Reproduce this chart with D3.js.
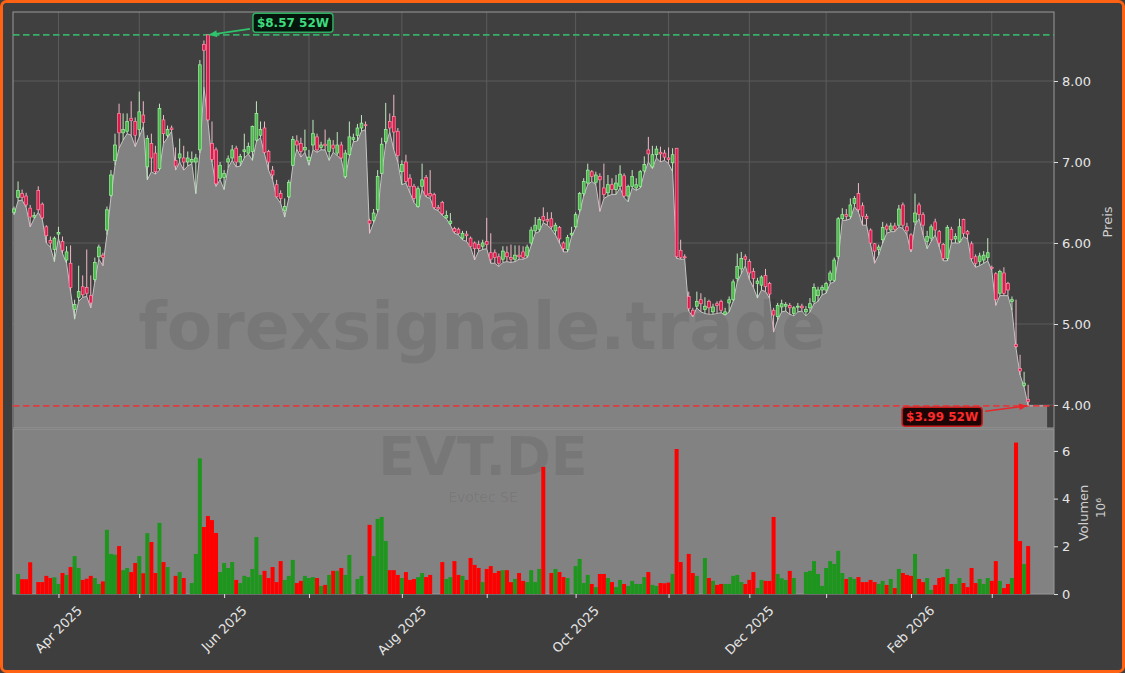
<!DOCTYPE html>
<html><head><meta charset="utf-8">
<script src="https://cdn.jsdelivr.net/npm/d3@7"></script>
<style>
html,body{margin:0;padding:0;background:#3e3e3e;}
svg{display:block;font-family:"DejaVu Sans",sans-serif;}
</style></head><body>
<svg id="chart" width="1125" height="673"></svg>
<script>
// ---------------- DATA ----------------
const startDate = "2025-03-17";
const holidays = ["2025-04-18","2025-04-21","2025-05-01","2025-12-24","2025-12-25","2025-12-26","2025-12-31","2026-01-01"];
const open = [
6.38,6.56,6.61,6.58,6.43,6.32,6.65,6.48,6.20,6.03,
5.92,6.11,6.02,5.79,5.75,5.18,5.33,5.46,5.45,5.35,
5.55,5.83,5.85,6.16,6.59,7.02,7.60,7.36,7.38,7.54,
7.50,7.40,7.58,6.94,7.23,7.11,6.92,7.52,7.33,7.42,
7.02,7.05,7.05,7.00,7.00,7.00,7.15,8.45,8.57,7.23,
7.15,6.80,6.81,7.00,7.05,7.17,7.00,7.13,7.11,7.13,
7.27,7.33,7.42,7.13,6.90,6.72,6.61,6.40,6.57,6.96,
7.26,7.23,7.15,7.02,7.21,7.31,7.18,7.22,7.13,7.21,
7.11,7.21,6.82,7.09,7.28,7.33,7.42,7.46,6.28,6.28,
6.41,6.86,7.25,7.50,7.56,7.38,6.88,7.00,6.80,6.70,
6.45,6.70,6.81,6.61,6.60,6.44,6.50,6.31,6.24,6.18,
6.17,6.06,6.11,6.06,6.00,5.98,5.96,6.02,5.88,5.88,
5.83,5.80,5.88,5.82,5.80,5.85,5.89,5.84,6.00,6.15,
6.17,6.33,6.29,6.30,6.15,6.19,6.00,5.92,6.10,6.20,
6.41,6.61,6.74,6.88,6.75,6.82,6.68,6.62,6.72,6.66,
6.70,6.83,6.58,6.70,6.68,6.70,6.89,7.15,6.94,7.09,
7.12,7.11,7.05,6.99,7.17,5.91,5.83,5.34,5.17,5.22,
5.30,5.18,5.28,5.15,5.25,5.28,5.12,5.26,5.30,5.56,
5.68,5.83,5.77,5.65,5.50,5.48,5.60,5.50,5.17,5.09,
5.21,5.22,5.23,5.13,5.21,5.22,5.15,5.20,5.28,5.35,
5.42,5.42,5.54,5.54,5.83,6.30,6.35,6.33,6.49,6.61,
6.46,6.33,6.16,5.99,5.92,6.04,6.21,6.16,6.21,6.22,
6.47,6.20,6.10,6.26,6.47,6.35,6.02,6.06,6.26,6.14,
5.98,5.81,6.17,6.05,6.02,6.29,6.14,5.99,5.83,5.77,
5.79,5.82,5.70,5.62,5.38,5.63,5.50,5.28,4.75,4.45,
4.24,4.07];
const high = [
6.45,6.76,6.66,6.62,6.47,6.38,6.70,6.50,6.22,6.08,
6.08,6.20,6.08,5.96,5.97,5.30,5.72,5.60,5.92,5.60,
5.82,5.98,5.88,6.45,6.90,7.35,7.72,7.60,7.60,7.75,
7.55,7.87,7.75,7.33,7.35,7.20,7.72,7.58,7.45,7.45,
7.18,7.29,7.20,7.13,7.13,7.10,8.26,8.50,8.57,7.50,
7.18,7.00,6.90,7.08,7.21,7.20,7.10,7.35,7.24,7.45,
7.75,7.50,7.50,7.15,6.95,6.78,6.65,6.55,6.78,7.32,
7.33,7.30,7.40,7.15,7.52,7.35,7.25,7.40,7.30,7.27,
7.37,7.25,7.15,7.50,7.35,7.47,7.58,7.50,6.30,6.42,
6.90,7.30,7.73,7.60,7.83,7.42,7.02,7.09,6.85,6.73,
6.70,6.98,6.84,6.90,6.62,6.47,6.52,6.40,6.37,6.20,
6.19,6.15,6.15,6.08,6.02,6.03,6.04,6.31,6.12,5.92,
5.87,5.96,5.96,5.98,5.97,5.97,5.96,5.98,6.20,6.32,
6.32,6.44,6.38,6.38,6.25,6.21,6.02,6.10,6.20,6.38,
6.63,6.80,6.98,6.90,6.88,6.86,6.98,6.84,6.80,6.84,
6.96,6.86,6.72,6.90,6.80,6.90,7.07,7.31,7.20,7.20,
7.19,7.15,7.18,7.17,7.17,6.04,5.86,5.40,5.20,5.40,
5.38,5.33,5.30,5.25,5.28,5.30,5.20,5.34,5.55,5.87,
5.89,5.86,5.80,5.69,5.57,5.60,5.68,5.52,5.20,5.26,
5.30,5.27,5.26,5.22,5.26,5.25,5.22,5.32,5.50,5.46,
5.48,5.52,5.66,5.82,6.32,6.43,6.42,6.55,6.58,6.74,
6.50,6.36,6.18,6.00,5.98,6.26,6.24,6.25,6.25,6.47,
6.50,6.25,6.12,6.61,6.50,6.38,6.15,6.23,6.30,6.16,
6.00,6.22,6.20,6.12,6.30,6.30,6.16,6.02,5.86,5.88,
5.90,6.06,5.72,5.64,5.67,5.70,5.52,5.34,5.30,4.62,
4.41,4.25];
const low = [
6.35,6.52,6.53,6.44,6.20,6.30,6.38,6.29,6.00,5.95,
5.77,6.06,5.87,5.75,5.40,5.06,5.28,5.33,5.34,5.20,
5.52,5.80,5.72,6.10,6.57,6.96,7.17,7.27,7.35,7.33,
7.19,7.31,7.44,6.78,6.88,6.85,6.90,7.23,7.30,7.38,
6.90,7.00,6.90,6.95,6.98,6.61,7.11,7.93,7.50,7.00,
6.70,6.78,6.66,6.93,7.02,6.94,6.95,7.05,7.10,7.02,
7.25,7.30,7.10,6.90,6.78,6.56,6.49,6.32,6.55,6.95,
7.16,7.06,7.12,6.96,7.15,7.12,7.15,7.15,7.02,7.12,
7.08,7.03,6.80,7.07,7.25,7.26,7.38,7.40,6.12,6.25,
6.38,6.85,7.22,7.37,7.15,7.00,6.72,6.74,6.62,6.50,
6.44,6.66,6.57,6.55,6.42,6.40,6.34,6.30,6.22,6.12,
6.10,6.04,6.02,5.95,5.79,5.90,5.92,5.93,5.75,5.75,
5.71,5.76,5.77,5.76,5.77,5.80,5.80,5.82,5.97,6.12,
6.14,6.25,6.22,6.17,6.10,6.00,5.89,5.89,6.08,6.18,
6.38,6.58,6.72,6.76,6.72,6.39,6.55,6.58,6.60,6.60,
6.68,6.56,6.51,6.68,6.65,6.68,6.86,7.00,6.92,7.05,
7.00,7.02,6.98,6.88,5.81,5.80,5.80,5.16,5.09,5.20,
5.15,5.13,5.12,5.12,5.13,5.14,5.11,5.15,5.28,5.52,
5.62,5.72,5.55,5.45,5.32,5.42,5.40,5.32,4.90,5.05,
5.15,5.16,5.12,5.10,5.15,5.16,5.10,5.15,5.25,5.28,
5.36,5.38,5.50,5.52,5.80,6.28,6.28,6.30,6.45,6.38,
6.22,6.22,5.98,5.75,5.85,6.00,6.12,6.14,6.14,6.20,
6.18,6.10,5.89,6.22,6.30,6.10,5.93,6.02,6.10,5.95,
5.78,5.78,6.00,6.00,6.00,6.08,6.05,5.78,5.70,5.72,
5.75,5.78,5.66,5.23,5.35,5.35,5.35,5.17,4.70,4.37,
4.22,3.99];
const close = [
6.42,6.65,6.56,6.47,6.32,6.34,6.41,6.31,6.09,6.00,
6.06,6.13,5.91,5.89,5.45,5.24,5.40,5.36,5.38,5.26,
5.76,5.95,5.82,6.41,6.84,7.21,7.36,7.40,7.50,7.51,
7.33,7.62,7.49,7.29,7.05,6.88,7.66,7.35,7.40,7.40,
6.95,7.10,7.00,7.05,7.03,7.05,8.20,8.38,7.52,7.03,
6.73,6.96,6.86,7.04,7.15,7.00,7.07,7.15,7.19,7.44,
7.60,7.40,7.12,7.00,6.84,6.57,6.55,6.45,6.75,7.28,
7.21,7.13,7.18,7.06,7.35,7.15,7.21,7.20,7.27,7.17,
7.21,7.05,7.11,7.31,7.30,7.42,7.48,7.45,6.24,6.37,
6.82,7.22,7.40,7.42,7.37,7.08,6.97,6.76,6.70,6.55,
6.67,6.78,6.59,6.58,6.44,6.42,6.36,6.34,6.27,6.14,
6.12,6.12,6.09,5.96,5.93,5.93,6.00,5.98,5.80,5.82,
5.75,5.90,5.83,5.80,5.85,5.83,5.82,5.95,6.16,6.22,
6.29,6.28,6.27,6.20,6.22,6.05,5.93,6.07,6.12,6.35,
6.61,6.76,6.90,6.82,6.84,6.78,6.60,6.72,6.66,6.74,
6.85,6.58,6.70,6.82,6.72,6.88,6.97,7.10,7.09,7.16,
7.10,7.06,7.03,7.09,5.83,5.82,5.82,5.19,5.11,5.28,
5.25,5.22,5.20,5.21,5.23,5.17,5.15,5.30,5.52,5.71,
5.81,5.80,5.63,5.56,5.53,5.58,5.46,5.37,5.11,5.23,
5.25,5.24,5.20,5.20,5.22,5.20,5.18,5.25,5.45,5.42,
5.45,5.50,5.63,5.79,6.30,6.35,6.33,6.47,6.55,6.41,
6.33,6.30,6.00,5.90,5.95,6.19,6.17,6.21,6.17,6.42,
6.22,6.15,5.92,6.37,6.35,6.22,6.08,6.20,6.16,6.00,
5.81,6.19,6.04,6.08,6.20,6.12,6.11,5.81,5.75,5.84,
5.85,5.88,5.69,5.30,5.65,5.38,5.42,5.30,4.72,4.42,
4.27,4.04];
// volume in millions
const volume = [
0,0.84,0.62,0.62,1.33,0,0.50,0.50,0.76,0.67,
0.70,0.42,0.88,0.80,1.13,1.59,1.09,0.59,0.64,0.76,
0.67,0.42,0.53,2.69,1.68,1.65,2.01,1.00,1.09,0.92,
1.30,1.59,0.87,2.55,2.18,0.88,2.98,1.34,1.13,0,
0.76,0.92,0.67,0,0.46,1.68,5.69,2.81,3.27,3.10,
2.56,0.92,1.30,1.09,1.34,0.59,0.46,0.76,0.71,1.05,
2.39,0.80,0.97,0.67,1.13,0.50,1.38,0.59,0.76,1.43,
0.46,0.55,0.76,0.67,0.71,0.67,0.34,0.38,0.80,0.97,
0.97,1.09,0.80,1.64,0,0.63,0.76,0,2.90,1.59,
3.15,3.23,2.22,1.00,1.00,0.80,0.67,0.92,0.59,0.63,
0.71,0.88,0.71,0.80,0,0,1.34,0.63,0.71,1.38,
0.80,0.76,0.59,1.51,1.22,1.09,0.50,1.05,1.17,0.88,
0.97,1.00,1.00,0.50,0.63,0.88,0.55,0.50,1.00,0.50,
1.05,5.33,0,0.88,1.05,0.92,0.71,0.67,0,1.17,
1.47,0.46,0.80,0.42,0.29,0.84,0.84,0.67,0.50,0.29,
0.59,0.42,0.34,0.55,0.42,0.42,0.71,0.92,0.38,0.34,
0.46,0.45,0.48,0.84,6.08,1.34,0,1.68,0.88,0.76,
0,1.51,0.67,0.55,0.38,0.42,0.42,0.42,0.76,0.80,
0.50,0.42,0.59,0.92,0.25,0.59,0.55,0.55,3.23,0.84,
0.66,0.59,0.97,0.67,0,0,0.92,0.97,1.38,0.84,
0.34,1.09,1.38,1.26,1.81,0.88,0.63,0.71,0.63,0.71,
0.50,0.50,0.59,0.50,0.42,0.55,0.38,0.63,0.25,1.05,
0.88,0.80,0.76,1.68,0.63,0.50,0.67,0.17,0.38,0.67,
0.71,1.05,0.42,0.42,0.67,0.46,0.29,1.09,0.46,0.63,
0.42,0.67,0.55,1.38,0.55,0.25,0.42,0.67,6.35,2.22,
1.26,2.01];
const priceTicks = [4, 5, 6, 7, 8];
const volumeTicks = [0, 2, 4, 6];
const xTickLabels = ["Apr 2025","Jun 2025","Aug 2025","Oct 2025","Dec 2025","Feb 2026"];
const ticker = "EVT.DE";
const companyName = "Evotec SE";
const watermark = "forexsignale.trade";

// ---------------- LAYOUT / STYLE ----------------
const W = 1125, H = 673;
const L = 13, R = 1054, pTop = 12, pBot = 428, vTop = 429, vBot = 594;
const areaEndIdx = 255.7;

function tradingDays(start, n, hol) {
  const hs = new Set(hol), out = [];
  const d = new Date(start + "T00:00:00Z");
  while (out.length < n) {
    const wd = d.getUTCDay(), s = d.toISOString().slice(0, 10);
    if (wd !== 0 && wd !== 6 && !hs.has(s)) out.push(new Date(d));
    d.setUTCDate(d.getUTCDate() + 1);
  }
  return out;
}
const dates = tradingDays(startDate, open.length, holidays);
const data = open.map((o, i) => ({i, o, h: high[i], l: low[i], c: close[i], v: volume[i], date: dates[i]}));
const monthIdx = [];
for (let i = 1; i < dates.length; i++) if (dates[i].getUTCMonth() !== dates[i-1].getUTCMonth()) monthIdx.push(i);
const fmt = d3.utcFormat("%b %Y");

const x = d3.scaleLinear().domain([-0.25, 257.4]).range([L, R]);
const y = d3.scaleLinear().domain([3.716, 8.852]).range([pBot, pTop]);
const yv = d3.scaleLinear().domain([0, 6.92]).range([vBot, vTop]);

const svg = d3.select("#chart");
svg.append("rect").attr("x", 1.5).attr("y", 1.5).attr("width", W - 3).attr("height", H - 3)
  .attr("rx", 5).attr("fill", "#3e3e3e").attr("stroke", "#ff6212").attr("stroke-width", 3);

// price panel background
svg.append("rect").attr("x", L).attr("y", pTop).attr("width", R - L).attr("height", pBot - pTop).attr("fill", "#404040");

// grid
const grid = svg.append("g");
grid.selectAll("line.h").data(priceTicks).join("line")
  .attr("x1", L).attr("x2", R).attr("y1", d => y(d)).attr("y2", d => y(d))
  .attr("stroke", "#5f5f5f").attr("stroke-width", 0.9);
grid.selectAll("line.v").data(monthIdx).join("line")
  .attr("x1", d => x(d)).attr("x2", d => x(d)).attr("y1", pTop).attr("y2", pBot)
  .attr("stroke", "#5f5f5f").attr("stroke-width", 0.9);

// area (lows)
const areaPts = data.map(d => [d.i, d.l]).concat([[areaEndIdx, low[low.length - 1]]]);
svg.append("path").datum(areaPts)
  .attr("d", d3.area().x(d => x(d[0])).y0(pBot).y1(d => y(d[1])))
  .attr("fill", "#828282");
svg.append("path").datum(areaPts)
  .attr("d", d3.line().x(d => x(d[0])).y(d => y(d[1])))
  .attr("fill", "none").attr("stroke", "#c4c4c4").attr("stroke-width", 1);

// volume panel background
svg.append("rect").attr("x", L).attr("y", vTop).attr("width", R - L).attr("height", vBot - vTop).attr("fill", "#828282");

// watermarks
svg.append("text").attr("x", 482).attr("y", 349).attr("text-anchor", "middle")
  .attr("font-size", 66).attr("font-weight", "bold").attr("fill", "#000").attr("fill-opacity", 0.08).text(watermark);
svg.append("text").attr("x", 483).attr("y", 475).attr("text-anchor", "middle")
  .attr("font-size", 54).attr("font-weight", "bold").attr("fill", "#000").attr("fill-opacity", 0.08).text(ticker);
svg.append("text").attr("x", 483).attr("y", 502).attr("text-anchor", "middle")
  .attr("font-size", 14).attr("fill", "#000").attr("fill-opacity", 0.08).text(companyName);

// spines
svg.append("rect").attr("x", L).attr("y", pTop).attr("width", R - L).attr("height", pBot - pTop)
  .attr("fill", "none").attr("stroke", "#999").attr("stroke-width", 1);
svg.append("rect").attr("x", L).attr("y", vTop).attr("width", R - L).attr("height", vBot - vTop)
  .attr("fill", "none").attr("stroke", "#999").attr("stroke-width", 1);

// 52w lines
let hiIdx = d3.maxIndex(high), loIdx = d3.minIndex(low);
const hiVal = high[hiIdx], loVal = low[loIdx];
svg.append("line").attr("x1", L).attr("x2", R).attr("y1", y(hiVal)).attr("y2", y(hiVal))
  .attr("stroke", "#37b56a").attr("stroke-width", 1.7).attr("stroke-dasharray", "6.5,3.5").attr("opacity", 0.95);
svg.append("line").attr("x1", L).attr("x2", R).attr("y1", y(loVal)).attr("y2", y(loVal))
  .attr("stroke", "#e3393c").attr("stroke-width", 1.7).attr("stroke-dasharray", "6.5,3.5").attr("opacity", 0.95);

// candles
const bw = 2.8;
const cg = svg.append("g");
cg.selectAll("line").data(data).join("line")
  .attr("x1", d => x(d.i)).attr("x2", d => x(d.i))
  .attr("y1", d => y(d.h)).attr("y2", d => y(d.l))
  .attr("stroke", d => d.c >= d.o ? "#bfe8bf" : "#f0b9c7").attr("stroke-width", 1);
cg.selectAll("rect").data(data).join("rect")
  .attr("x", d => x(d.i) - bw / 2).attr("width", bw)
  .attr("y", d => y(Math.max(d.o, d.c)))
  .attr("height", d => Math.max(1, Math.abs(y(d.o) - y(d.c))))
  .attr("fill", d => d.c >= d.o ? "#4cb84c" : "#e0184c")
  .attr("stroke", d => d.c >= d.o ? "#a2f2a2" : "#ff8fa8").attr("stroke-width", 0.7);

// volume bars
svg.append("g").selectAll("rect").data(data.filter(d => d.v > 0)).join("rect")
  .attr("x", d => x(d.i) - 2).attr("width", 4)
  .attr("y", d => yv(d.v)).attr("height", d => vBot - yv(d.v))
  .attr("fill", d => d.c >= d.o ? "#1e961e" : "#ff0000");

// axes
const axCol = "#e6e6e6";
const pAx = svg.append("g").attr("transform", `translate(${R},0)`)
  .call(d3.axisRight(y).tickValues(priceTicks).tickFormat(d3.format(".2f")).tickSize(4).tickPadding(4));
const vAx = svg.append("g").attr("transform", `translate(${R},0)`)
  .call(d3.axisRight(yv).tickValues(volumeTicks).tickFormat(d3.format("d")).tickSize(4).tickPadding(4));
const xAx = svg.append("g").attr("transform", `translate(0,${vBot})`)
  .call(d3.axisBottom(x).tickValues(monthIdx).tickFormat("").tickSize(4));
[pAx, vAx, xAx].forEach(g => {
  g.select(".domain").remove();
  g.selectAll(".tick line").attr("stroke", "#dddddd");
  g.selectAll(".tick text").attr("fill", axCol).attr("font-size", 13).attr("font-family", "DejaVu Sans");
});
const xl = svg.append("g");
monthIdx.forEach(i => {
  const lbl = fmt(dates[i]);
  if (!xTickLabels.includes(lbl)) return;
  const t = xl.append("text").text(lbl).attr("font-size", 13).attr("fill", axCol)
    .attr("text-anchor", "middle").attr("dominant-baseline", "central");
  const len = t.node().getComputedTextLength();
  const cy = 604 + (len + 12) * 0.3536;
  t.attr("transform", `translate(${x(i)},${cy}) rotate(-45)`);
});

svg.append("text").attr("transform", "translate(1107,222) rotate(-90)").attr("text-anchor", "middle")
  .attr("dominant-baseline", "central").attr("font-size", 13).attr("fill", "#cfcfcf").text("Preis");
svg.append("text").attr("transform", "translate(1083,513) rotate(-90)").attr("text-anchor", "middle")
  .attr("dominant-baseline", "central").attr("font-size", 13).attr("fill", "#cfcfcf").text("Volumen");
svg.append("text").attr("transform", "translate(1101,508) rotate(-90)").attr("text-anchor", "middle")
  .attr("dominant-baseline", "central").attr("font-size", 12).attr("fill", "#cfcfcf").text("10⁶");

// annotations
function arrow(x1, y1, x2, y2, col) {
  svg.append("line").attr("x1", x1).attr("y1", y1).attr("x2", x2).attr("y2", y2)
    .attr("stroke", col).attr("stroke-width", 1.6);
  const a = Math.atan2(y2 - y1, x2 - x1), s = 8, w = 3.5;
  const bx = x2 - s * Math.cos(a), by = y2 - s * Math.sin(a);
  const p = [[x2, y2], [bx + w * Math.sin(a), by - w * Math.cos(a)], [bx - w * Math.sin(a), by + w * Math.cos(a)]];
  svg.append("path").attr("d", "M" + p.map(q => q.join(",")).join("L") + "Z").attr("fill", col);
}
function labelBox(bx, by, txt, col, bg, border) {
  svg.append("rect").attr("x", bx).attr("y", by).attr("width", 80).attr("height", 19).attr("rx", 3)
    .attr("fill", bg).attr("stroke", border).attr("stroke-width", 1.5);
  svg.append("text").attr("x", bx + 40).attr("y", by + 10).attr("text-anchor", "middle")
    .attr("dominant-baseline", "central").attr("font-size", 12).attr("font-weight", "bold")
    .attr("fill", col).text(txt);
}
const hx = x(hiIdx), hy = y(hiVal);
arrow(hx + 42, hy - 6, hx + 1, hy, "#2fc46b");
labelBox(hx + 45, hy - 21.5, `$${hiVal.toFixed(2)} 52W`, "#3ddc7e", "#07160d", "#2fae62");
const lx = x(loIdx), ly = y(loVal);
arrow(lx - 43, ly + 5.5, lx - 1, ly, "#e8262a");
labelBox(lx - 126, ly + 1.5, `$${loVal.toFixed(2)} 52W`, "#ff2b2b", "#1e0505", "#c81e1e");
</script>
</body></html>
